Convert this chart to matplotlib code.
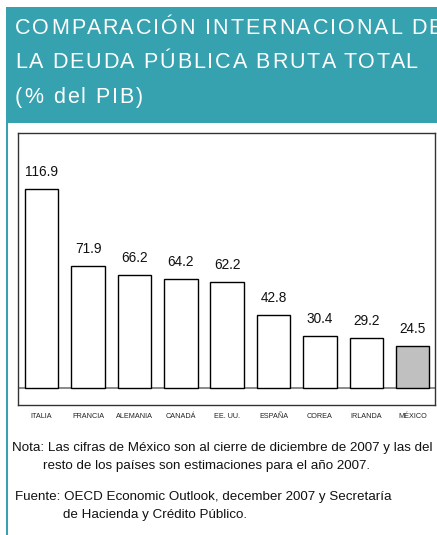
import matplotlib
matplotlib.use("Agg")
import matplotlib.pyplot as plt
from matplotlib.patches import Rectangle
from matplotlib.font_manager import FontProperties
from matplotlib.textpath import TextToPath

plt.rcParams['font.family'] = ['Liberation Sans', 'DejaVu Sans']

paises = ['ITALIA', 'FRANCIA', 'ALEMANIA', 'CANADÁ', 'EE. UU.', 'ESPAÑA', 'COREA', 'IRLANDA', 'MÉXICO']
deuda = [116.9, 71.9, 66.2, 64.2, 62.2, 42.8, 30.4, 29.2, 24.5]
titulo = ['COMPARACIÓN INTERNACIONAL DE', 'LA DEUDA PÚBLICA BRUTA TOTAL', '(% del PIB)']

W, H = 437, 535
DPI = 100
teal = '#36A2AF'

fig = plt.figure(figsize=(W / DPI, H / DPI), dpi=DPI)
fig.patch.set_facecolor('white')
ttp = TextToPath()


def px(x, y):
    # pixel coords (from top-left) -> figure fraction
    return x / W, 1 - y / H


def text_width(s, prop):
    # width in pixels, measured with a bar so trailing spaces count
    w = ttp.get_text_width_height_descent(s + '|', prop, ismath=False)[0]
    w0 = ttp.get_text_width_height_descent('|', prop, ismath=False)[0]
    return (w - w0) * DPI / 72


def spaced_text(x, y, s, size, tracking, **kw):
    # draw a string letter by letter with extra spacing between letters
    prop = FontProperties(family='Liberation Sans', size=size)
    for i, ch in enumerate(s):
        if ch == ' ':
            continue
        off = text_width(s[:i], prop) + i * tracking
        fig.text(*px(x + off, y), ch, fontproperties=prop, va='center', ha='left', **kw)


# header band and left border
x0, y0 = px(6, 121)
fig.patches.append(Rectangle((x0, y0), 1 - x0, (121 - 7) / H, transform=fig.transFigure,
                             facecolor=teal, edgecolor='none', zorder=0))
fig.patches.append(Rectangle((x0, 0), 2 / W, y0, transform=fig.transFigure,
                             facecolor=teal, edgecolor='none', zorder=0))
fig.patches.append(Rectangle((x0, y0 - 2 / H), 1 - x0, 2 / H, transform=fig.transFigure,
                             facecolor=teal, edgecolor='none', zorder=0))

for i, linea in enumerate(titulo):
    spaced_text(15, 28.5 + 34.5 * i, linea, 15.5, 1.9, color='white')

# chart area
ax = fig.add_axes([18 / W, (H - 405) / H, 417 / W, 272 / H])
colores = ['white'] * (len(paises) - 1) + ['#C0C0C0']
pos = range(len(paises))
ax.bar(pos, deuda, width=0.72, color=colores, edgecolor='black', linewidth=1, zorder=2)
ax.axhline(0, color='#777777', linewidth=1.2, zorder=1)
for i, v in zip(pos, deuda):
    ax.text(i, v + 6, f'{v:.1f}', ha='center', va='bottom', fontsize=9.8, color='#111111')

ax.set_xlim(-0.51, 8.48)
ax.set_ylim(-10, 150)
ax.set_yticks([])
ax.set_xticks(list(pos))
ax.set_xticklabels(paises, fontsize=5.2, color='#222222')
ax.tick_params(axis='x', length=0, pad=6)
for s in ax.spines.values():
    s.set_color('#333333')
    s.set_linewidth(1)

# notes
nota_kw = dict(fontsize=9.6, va='center', ha='left', color='#111111')
fig.text(*px(12, 448), 'Nota: Las cifras de México son al cierre de diciembre de 2007 y las del', **nota_kw)
fig.text(*px(43, 466), 'resto de los países son estimaciones para el año 2007.', **nota_kw)
fig.text(*px(15, 497), 'Fuente: OECD Economic Outlook, december 2007 y Secretaría', **nota_kw)
fig.text(*px(63, 515), 'de Hacienda y Crédito Público.', **nota_kw)

fig.savefig('out.png', dpi=DPI)
